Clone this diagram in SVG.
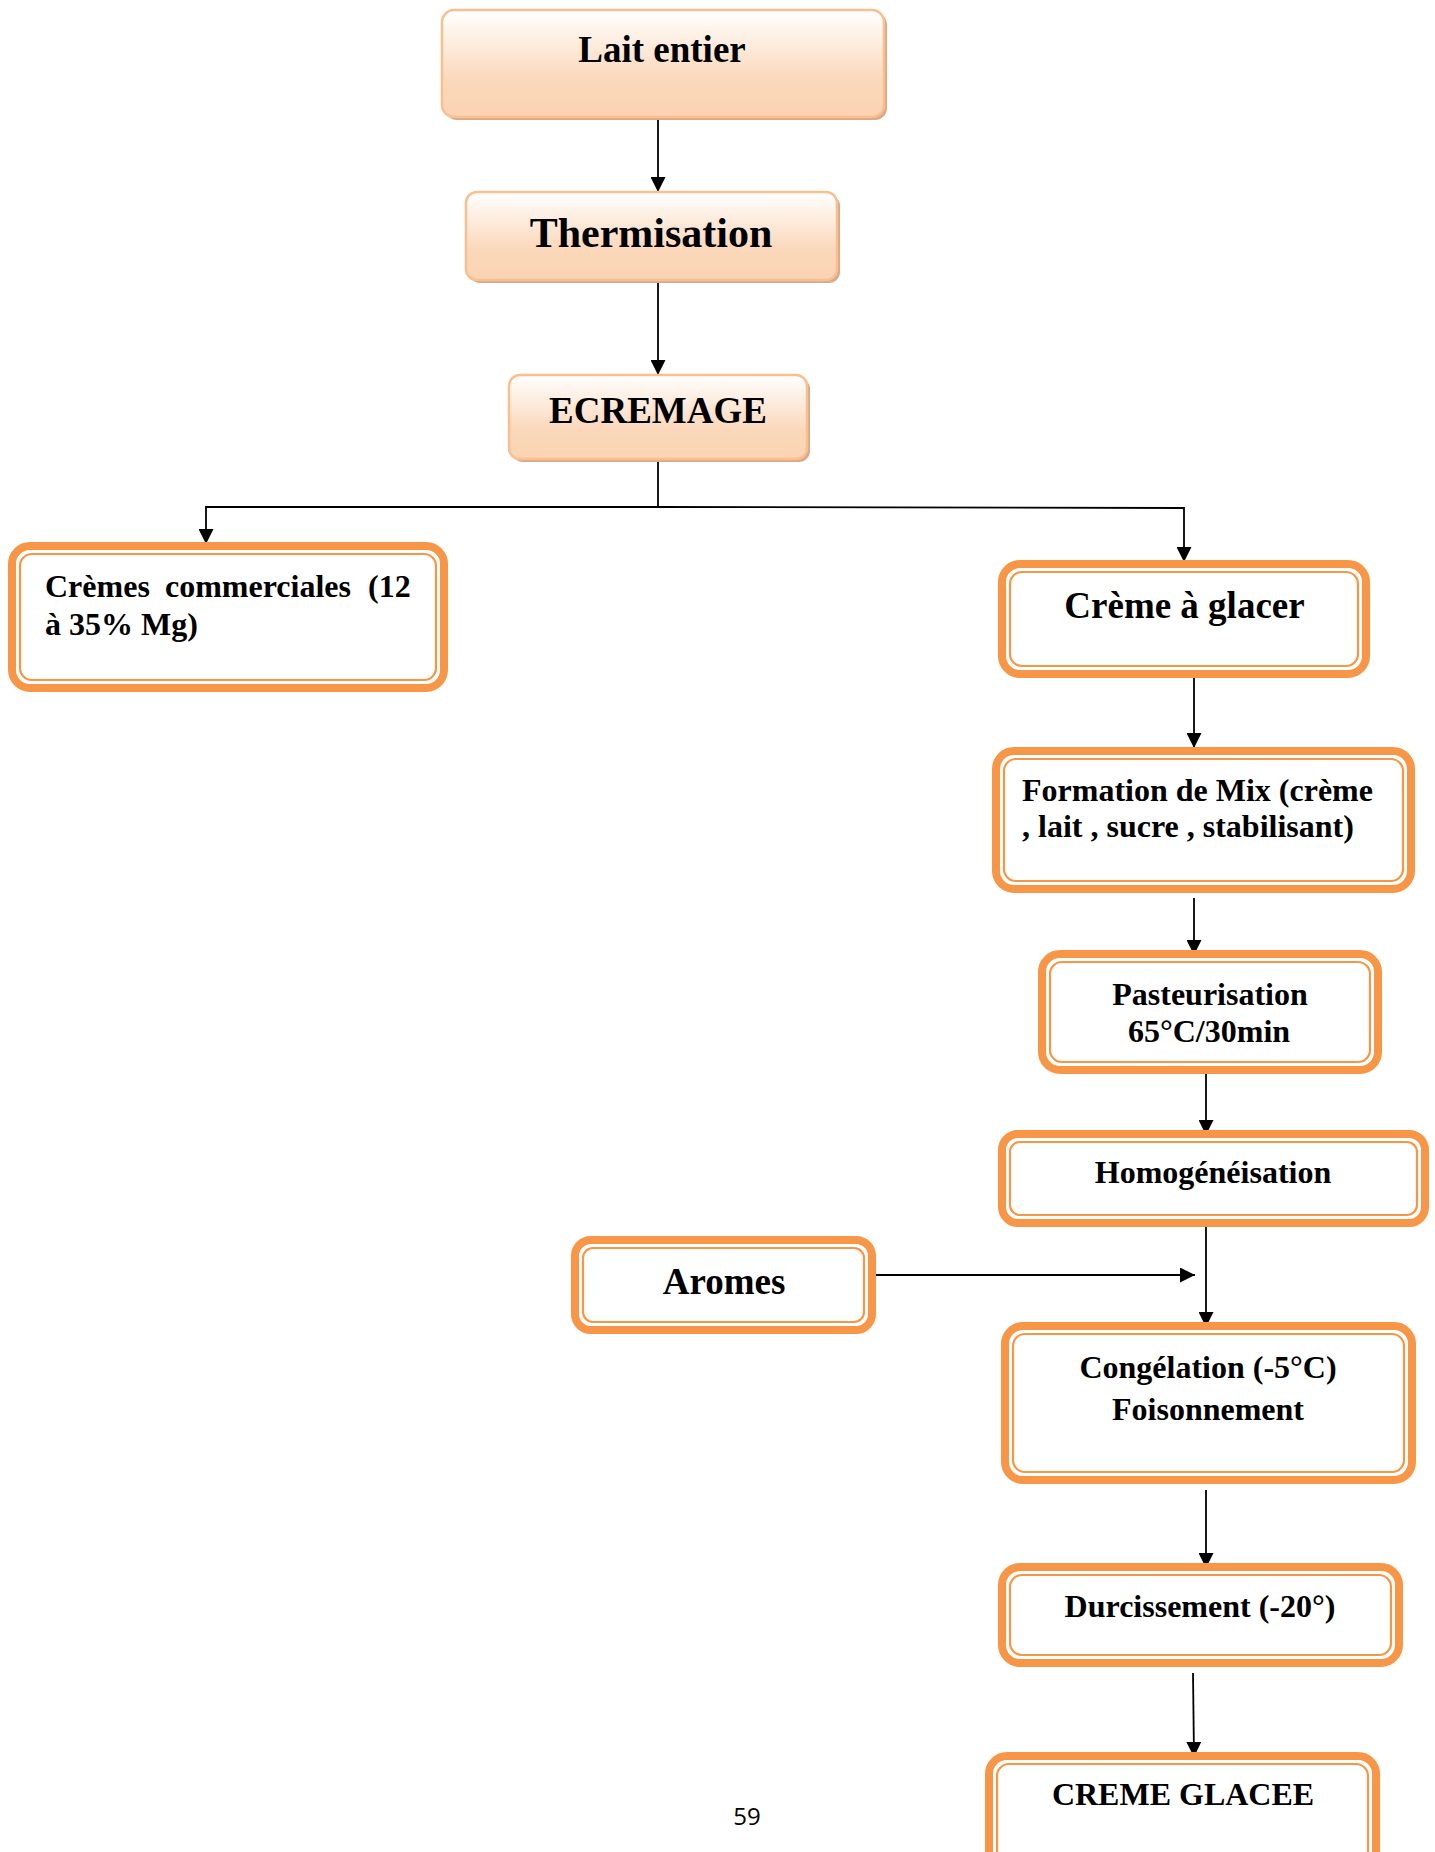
<svg xmlns="http://www.w3.org/2000/svg" width="1435" height="1852" viewBox="0 0 1435 1852">
<style>
  text { font-family: "Liberation Serif", "Times New Roman", serif; font-weight: bold; fill: #000; }
  .peach { fill: url(#peachGrad); stroke: #f9bf8f; stroke-width: 2.5; }
  .shadow { fill: #d9a98a; }
  .outer { fill: #fff; stroke: #f79646; stroke-width: 8; }
  .inner { fill: none; stroke: #f79646; stroke-width: 2.2; }
  .conn { fill: none; stroke: #000; stroke-width: 1.8; }
  .mid { text-anchor: middle; }
  .s32 { font-size: 32px; }
  .s37 { font-size: 37px; }
</style>
<defs>
  <linearGradient id="peachGrad" x1="0" y1="0" x2="0" y2="1">
    <stop offset="0" stop-color="#ffffff"/>
    <stop offset="0.65" stop-color="#fbd8bb"/>
    <stop offset="1" stop-color="#fad3b2"/>
  </linearGradient>
  <marker id="arr" markerUnits="userSpaceOnUse" markerWidth="15" markerHeight="15" refX="15" refY="7.5" orient="auto">
    <path d="M0,0 L15,7.5 L0,15 z" fill="#000"/>
  </marker>
</defs>
<rect width="1435" height="1852" fill="#fff"/>

<g id="connectors">
  <line class="conn" x1="658" y1="117" x2="658" y2="192" marker-end="url(#arr)"/>
  <line class="conn" x1="658" y1="283" x2="658" y2="375" marker-end="url(#arr)"/>
  <line class="conn" x1="658" y1="459" x2="658" y2="507"/>
  <polyline class="conn" points="658,507 206,507 206,544" marker-end="url(#arr)"/>
  <polyline class="conn" points="658,507 1184,508 1184,562" marker-end="url(#arr)"/>
  <line class="conn" x1="1194" y1="672" x2="1194" y2="748" marker-end="url(#arr)"/>
  <line class="conn" x1="1194" y1="898" x2="1194" y2="955" marker-end="url(#arr)"/>
  <line class="conn" x1="1206" y1="1068" x2="1206" y2="1135" marker-end="url(#arr)"/>
  <line class="conn" x1="1206" y1="1221" x2="1206" y2="1327" marker-end="url(#arr)"/>
  <line class="conn" x1="876" y1="1275" x2="1195" y2="1275" stroke-width="2.5" marker-end="url(#arr)"/>
  <line class="conn" x1="1206" y1="1490" x2="1206" y2="1568" marker-end="url(#arr)"/>
  <line class="conn" x1="1193" y1="1673" x2="1194" y2="1757" marker-end="url(#arr)"/>
</g>

<g id="lait-entier">
  <rect class="shadow" x="445" y="13" width="442" height="107" rx="12"/>
  <rect class="peach" x="442" y="10" width="442" height="107" rx="12"/>
  <text class="mid s37" x="662" y="62">Lait entier</text>
</g>

<g id="thermisation">
  <rect class="shadow" x="469" y="195" width="371" height="88" rx="11"/>
  <rect class="peach" x="466" y="192" width="371" height="88" rx="11"/>
  <text class="mid" x="651" y="247" font-size="42">Thermisation</text>
</g>

<g id="ecremage">
  <rect class="shadow" x="512" y="378" width="298" height="84" rx="11"/>
  <rect class="peach" x="509" y="375" width="298" height="84" rx="11"/>
  <text class="mid s37" x="658" y="423">ECREMAGE</text>
</g>

<g id="cremes-commerciales">
  <rect class="outer" x="12" y="546" width="432" height="142" rx="18"/>
  <rect class="inner" x="20" y="554" width="416" height="126" rx="12"/>
  <text class="s32" y="597"><tspan x="45">Crèmes</tspan><tspan x="165">commerciales</tspan><tspan x="368">(12</tspan></text>
  <text class="s32" x="45" y="635">à 35% Mg)</text>
</g>

<g id="creme-a-glacer">
  <rect class="outer" x="1002" y="564" width="364" height="110" rx="18"/>
  <rect class="inner" x="1010" y="572" width="348" height="94" rx="12"/>
  <text class="mid s37" x="1184.5" y="618">Crème à glacer</text>
</g>

<g id="formation-mix">
  <rect class="outer" x="996" y="751" width="415" height="138" rx="18"/>
  <rect class="inner" x="1004" y="759" width="399" height="122" rx="12"/>
  <text class="s32" x="1022" y="801">Formation de Mix (crème</text>
  <text class="s32" x="1022" y="837">, lait , sucre , stabilisant)</text>
</g>

<g id="pasteurisation">
  <rect class="outer" x="1042" y="954" width="336" height="116" rx="18"/>
  <rect class="inner" x="1050" y="962" width="320" height="100" rx="12"/>
  <text class="mid s32" x="1210" y="1005">Pasteurisation</text>
  <text class="mid s32" x="1209" y="1042">65°C/30min</text>
</g>

<g id="homogeneisation">
  <rect class="outer" x="1002" y="1134" width="423" height="89" rx="16"/>
  <rect class="inner" x="1010" y="1142" width="407" height="73" rx="10"/>
  <text class="mid s32" x="1213" y="1183">Homogénéisation</text>
</g>

<g id="aromes">
  <rect class="outer" x="575" y="1240" width="297" height="90" rx="16"/>
  <rect class="inner" x="583" y="1248" width="281" height="74" rx="10"/>
  <text class="mid s37" x="724" y="1294">Aromes</text>
</g>

<g id="congelation">
  <rect class="outer" x="1005" y="1326" width="407" height="154" rx="18"/>
  <rect class="inner" x="1013" y="1334" width="391" height="138" rx="12"/>
  <text class="mid s32" x="1208" y="1378">Congélation (-5°C)</text>
  <text class="mid s32" x="1208" y="1420">Foisonnement</text>
</g>

<g id="durcissement">
  <rect class="outer" x="1002" y="1567" width="397" height="96" rx="18"/>
  <rect class="inner" x="1010" y="1575" width="381" height="80" rx="12"/>
  <text class="mid s32" x="1200" y="1617">Durcissement (-20°)</text>
</g>

<g id="creme-glacee">
  <rect class="outer" x="989" y="1756" width="387" height="130" rx="18"/>
  <rect class="inner" x="997" y="1764" width="371" height="114" rx="12"/>
  <text class="mid s32" x="1183" y="1805">CREME GLACEE</text>
</g>

<text x="747" y="1825" text-anchor="middle" style="font-family: 'Open Sans', 'Noto Sans', sans-serif; font-weight: normal; font-size: 24px;">59</text>
</svg>
